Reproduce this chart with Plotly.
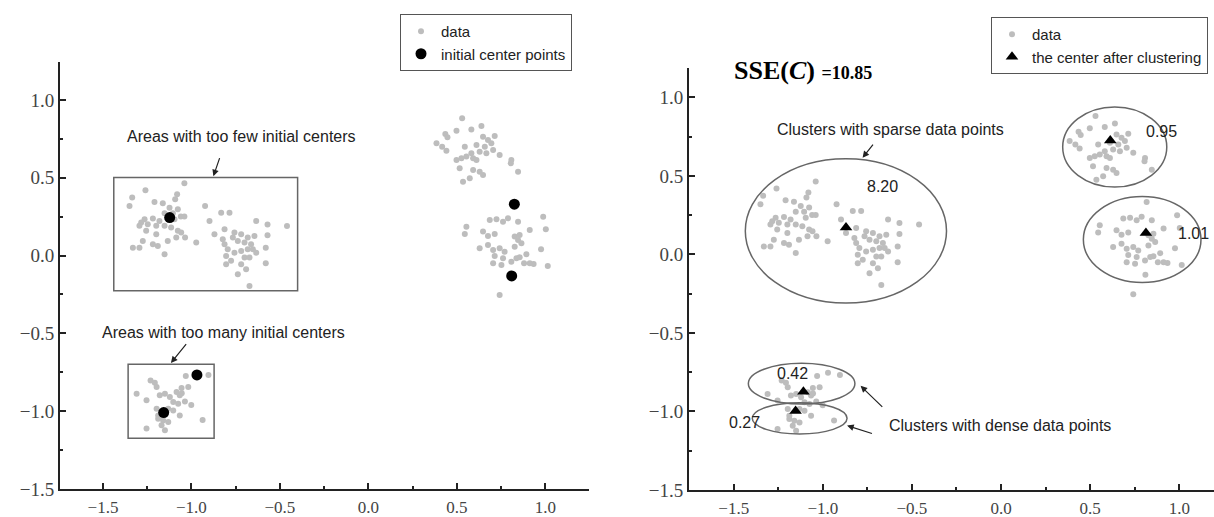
import plotly.graph_objects as go

# ---------------- data (shared by both panels) ----------------
clusterA_x = [-1.04, -1.26, -1.335, -1.35, -1.209, -1.162, -1.081, -1.092, -1.077, -1.06, -1.04, -1.096,
              -1.181, -1.218, -1.265, -1.284, -1.247, -1.294, -1.199, -1.152, -1.115, -1.077, -1.058,
              -1.036, -1.256, -1.199, -1.134, -1.086, -1.275, -1.218, -1.19, -1.331, -1.294, -1.152,
              -0.973, -1.124, -1.152, -1.105]
clusterA_y = [0.465, 0.42, 0.373, 0.319, 0.345, 0.336, 0.394, 0.362, 0.298, 0.251, 0.251, 0.233,
              0.223, 0.238, 0.233, 0.212, 0.201, 0.191, 0.191, 0.191, 0.18, 0.159, 0.148,
              0.116, 0.159, 0.137, 0.094, 0.116, 0.094, 0.073, 0.062, 0.051, 0.051, 0.009,
              0.084, 0.308, 0.272, 0.272]

clusterB_x = [-0.923, -0.832, -0.785, -0.898, -0.813, -0.757, -0.719, -0.682, -0.644, -0.87, -0.823,
              -0.766, -0.738, -0.7, -0.663, -0.634, -0.813, -0.795, -0.757, -0.719, -0.682, -0.653,
              -0.804, -0.776, -0.7, -0.672, -0.804, -0.719, -0.691, -0.738, -0.672, -0.634,
              -0.57, -0.57, -0.46, -0.58, -0.58]
clusterB_y = [0.319, 0.276, 0.276, 0.223, 0.169, 0.148, 0.137, 0.116, 0.126, 0.137, 0.105,
              0.116, 0.094, 0.084, 0.073, 0.223, 0.073, 0.041, 0.019, 0.03, 0.041, 0.041,
              -0.002, -0.034, -0.013, -0.013, -0.056, -0.056, -0.088, -0.12, -0.195, 0.019,
              0.2, 0.13, 0.19, 0.05, -0.05]

clusterC_x = [0.53, 0.435, 0.447, 0.498, 0.582, 0.639, 0.385, 0.417, 0.441, 0.545, 0.611, 0.648,
              0.676, 0.714, 0.695, 0.658, 0.629, 0.667, 0.705, 0.582, 0.554, 0.526, 0.498, 0.592,
              0.611, 0.742, 0.808, 0.805, 0.846, 0.516, 0.592, 0.629, 0.648, 0.573, 0.535]
clusterC_y = [0.882, 0.781, 0.76, 0.803, 0.811, 0.833, 0.722, 0.7, 0.674, 0.7, 0.711, 0.764,
              0.743, 0.769, 0.722, 0.7, 0.668, 0.657, 0.679, 0.657, 0.636, 0.625, 0.614, 0.625,
              0.614, 0.647, 0.614, 0.593, 0.539, 0.561, 0.55, 0.539, 0.518, 0.497, 0.475]

clusterD_x = [0.686, 0.724, 0.761, 0.789, 0.846, 0.554, 0.545, 0.648, 0.676, 0.714, 0.827, 0.855,
              0.846, 0.865, 0.629, 0.676, 0.705, 0.742, 0.77, 0.827, 0.714, 0.761, 0.837, 0.855,
              0.705, 0.752, 0.808, 0.742, 0.988, 1.003, 0.912, 1.014, 0.934, 0.88, 0.912, 0.976,
              0.893, 0.81, 0.817]
clusterD_y = [0.229, 0.233, 0.218, 0.24, 0.218, 0.186, 0.139, 0.154, 0.126, 0.139, 0.122, 0.132,
              0.1, 0.079, 0.047, 0.068, 0.036, 0.047, 0.025, 0.057, -0.003, -0.017, -0.017, -0.011,
              -0.05, -0.06, -0.039, -0.253, 0.25, 0.169, 0.165, -0.067, -0.054, -0.05, -0.05, 0.04,
              0.008, -0.13, 0.333]

clusterE_x = [-1.032, -1.231, -1.207, -1.197, -1.31, -1.254, -1.179, -1.15, -1.122, -1.084, -1.056,
              -1.066, -1.103, -1.075, -1.037, -1.018, -1.131, -1.103, -1.066, -1.197, -1.188, -1.16,
              -1.131, -1.169, -1.15, -1.254, -1.188, -0.904, -0.937, -1.001, -0.971, -1.055]
clusterE_y = [-0.774, -0.802, -0.817, -0.845, -0.888, -0.93, -0.898, -0.888, -0.909, -0.877, -0.851,
              -0.898, -0.941, -0.952, -0.937, -0.845, -0.984, -0.995, -1.027, -0.984, -1.048, -1.059,
              -1.07, -1.091, -1.123, -1.112, -1.027, -0.767, -1.057, -0.96, -0.754, -0.885]

data_x = clusterA_x + clusterB_x + clusterC_x + clusterD_x + clusterE_x
data_y = clusterA_y + clusterB_y + clusterC_y + clusterD_y + clusterE_y

init_x = [-1.123, 0.825, 0.81, -0.969, -1.157]
init_y = [0.244, 0.33, -0.131, -0.767, -1.009]

final_x = [-0.87, 0.613, 0.813, -1.109, -1.153]
final_y = [0.171, 0.726, 0.136, -0.874, -0.997]

sse_labels = ["8.20", "0.95", "1.01", "0.42", "0.27"]
sse_label_x = [-0.668, 0.902, 1.079, -1.173, -1.44]
sse_label_y = [0.433, 0.783, 0.136, -0.757, -1.071]

tick_vals = [-1.5, -1.0, -0.5, 0.0, 0.5, 1.0]
tick_text = ["\u22121.5", "\u22121.0", "\u22120.5", "0.0", "0.5", "1.0"]

# ---------------- figure ----------------
GREY = "#bdbdbd"
fig = go.Figure()

fig.add_trace(go.Scatter(x=data_x, y=data_y, mode="markers", name="data",
                         marker=dict(size=6, color=GREY), xaxis="x", yaxis="y", legend="legend"))
fig.add_trace(go.Scatter(x=init_x, y=init_y, mode="markers", name="initial center points",
                         marker=dict(size=11, color="black"), xaxis="x", yaxis="y", legend="legend"))

fig.add_trace(go.Scatter(x=data_x, y=data_y, mode="markers", name="data",
                         marker=dict(size=6, color=GREY), xaxis="x2", yaxis="y2", legend="legend2"))
fig.add_trace(go.Scatter(x=final_x, y=final_y, mode="markers", name="the center after clustering",
                         marker=dict(size=11, color="black", symbol="triangle-up"),
                         xaxis="x2", yaxis="y2", legend="legend2"))

axis_common = dict(showline=True, linecolor="#222", linewidth=2, showgrid=False, zeroline=False,
                   ticks="inside", ticklen=6, tickwidth=2, tickcolor="#222",
                   tickvals=tick_vals, ticktext=tick_text,
                   minor=dict(ticks="inside", ticklen=3, tickwidth=1.5, tickcolor="#222",
                              tick0=0, dtick=0.25),
                   fixedrange=True)
xfont = dict(family="Liberation Serif", size=17, color="#444")
yfont = dict(family="Liberation Serif", size=19, color="#444")

W, H = 1214, 517
legend_font = dict(family="Liberation Sans", size=15, color="#222")
fig.update_layout(
    width=W, height=H, margin=dict(l=0, r=0, t=0, b=0, autoexpand=False),
    paper_bgcolor="white", plot_bgcolor="white", showlegend=True,
    xaxis=dict(domain=[60 / W, 589 / W], range=[-1.743, 1.247], anchor="y", tickfont=xfont,
               ticklabelstandoff=2, **axis_common),
    yaxis=dict(domain=[28 / H, 455 / H], range=[-1.5, 1.244], anchor="x", tickfont=yfont, **axis_common),
    xaxis2=dict(domain=[689 / W, 1.0], range=[-1.751, 1.195], anchor="y2", tickfont=xfont,
                ticklabelstandoff=2, **axis_common),
    yaxis2=dict(domain=[27 / H, 449 / H], range=[-1.5, 1.187], anchor="x2", tickfont=yfont, **axis_common),
    legend=dict(x=400 / W, y=1 - 14 / H, xanchor="left", yanchor="top", bgcolor="white",
                bordercolor="#555", borderwidth=1, tracegroupgap=0, font=legend_font),
    legend2=dict(x=991 / W, y=1 - 17 / H, xanchor="left", yanchor="top", bgcolor="white",
                 bordercolor="#555", borderwidth=1, tracegroupgap=0, font=legend_font),
)

# ---------------- left panel boxes and notes ----------------
box_line = dict(color="#666", width=1.5)
fig.add_shape(type="rect", xref="x", yref="y", x0=-1.439, x1=-0.4, y0=-0.226, y1=0.501, line=box_line)
fig.add_shape(type="rect", xref="x", yref="y", x0=-1.358, x1=-0.872, y0=-1.174, y1=-0.699, line=box_line)

note_font = dict(family="Liberation Sans", size=16, color="#222")
arrow_kw = dict(showarrow=True, arrowhead=2, arrowsize=1.1, arrowwidth=1.2, arrowcolor="#222", text="")

fig.add_annotation(xref="x", yref="y", x=-0.715, y=0.764, text="Areas with too few initial centers",
                   showarrow=False, font=note_font)
fig.add_annotation(xref="x", yref="y", x=-0.876, y=0.51, axref="x", ayref="y", ax=-0.838, ay=0.636, **arrow_kw)
fig.add_annotation(xref="x", yref="y", x=-0.818, y=-0.495, text="Areas with too many initial centers",
                   showarrow=False, font=note_font)
fig.add_annotation(xref="x", yref="y", x=-1.116, y=-0.69, axref="x", ayref="y", ax=-1.023, ay=-0.56, **arrow_kw)

# ---------------- right panel ellipses and notes ----------------
ell_line = dict(color="#666", width=1.5)
ellipses = [(-1.435, -0.306, -0.31, 0.609), (0.346, 0.93, 0.429, 0.939), (0.462, 1.122, -0.179, 0.369),
            (-1.418, -0.82, -0.952, -0.693), (-1.396, -0.864, -1.143, -0.944)]
for x0, x1, y0, y1 in ellipses:
    fig.add_shape(type="circle", xref="x2", yref="y2", x0=x0, x1=x1, y0=y0, y1=y1, line=ell_line)

for t, lx, ly in zip(sse_labels, sse_label_x, sse_label_y):
    fig.add_annotation(xref="x2", yref="y2", x=lx, y=ly, text=t, showarrow=False, font=note_font)

fig.add_annotation(xref="x2", yref="y2", x=-0.62, y=0.794, text="Clusters with sparse data points",
                   showarrow=False, font=note_font)
fig.add_annotation(xref="x2", yref="y2", x=-0.777, y=0.615, axref="x2", ayref="y2", ax=-0.712, ay=0.709, **arrow_kw)
fig.add_annotation(xref="x2", yref="y2", x=-0.006, y=-1.092, text="Clusters with dense data points",
                   showarrow=False, font=note_font)
fig.add_annotation(xref="x2", yref="y2", x=-0.788, y=-0.837, axref="x2", ayref="y2", ax=-0.658, ay=-0.98, **arrow_kw)
fig.add_annotation(xref="x2", yref="y2", x=-0.864, y=-1.09, axref="x2", ayref="y2", ax=-0.716, ay=-1.143, **arrow_kw)

fig.add_annotation(xref="paper", yref="paper", x=732 / W, y=1 - 70 / H, xanchor="left", yanchor="middle",
                   showarrow=False,
                   text="<b>SSE(<i>C</i>)</b> <b><span style='font-size:18px'>=10.85</span></b>",
                   font=dict(family="Liberation Serif", size=26, color="black"))

fig.write_html("out.html")
